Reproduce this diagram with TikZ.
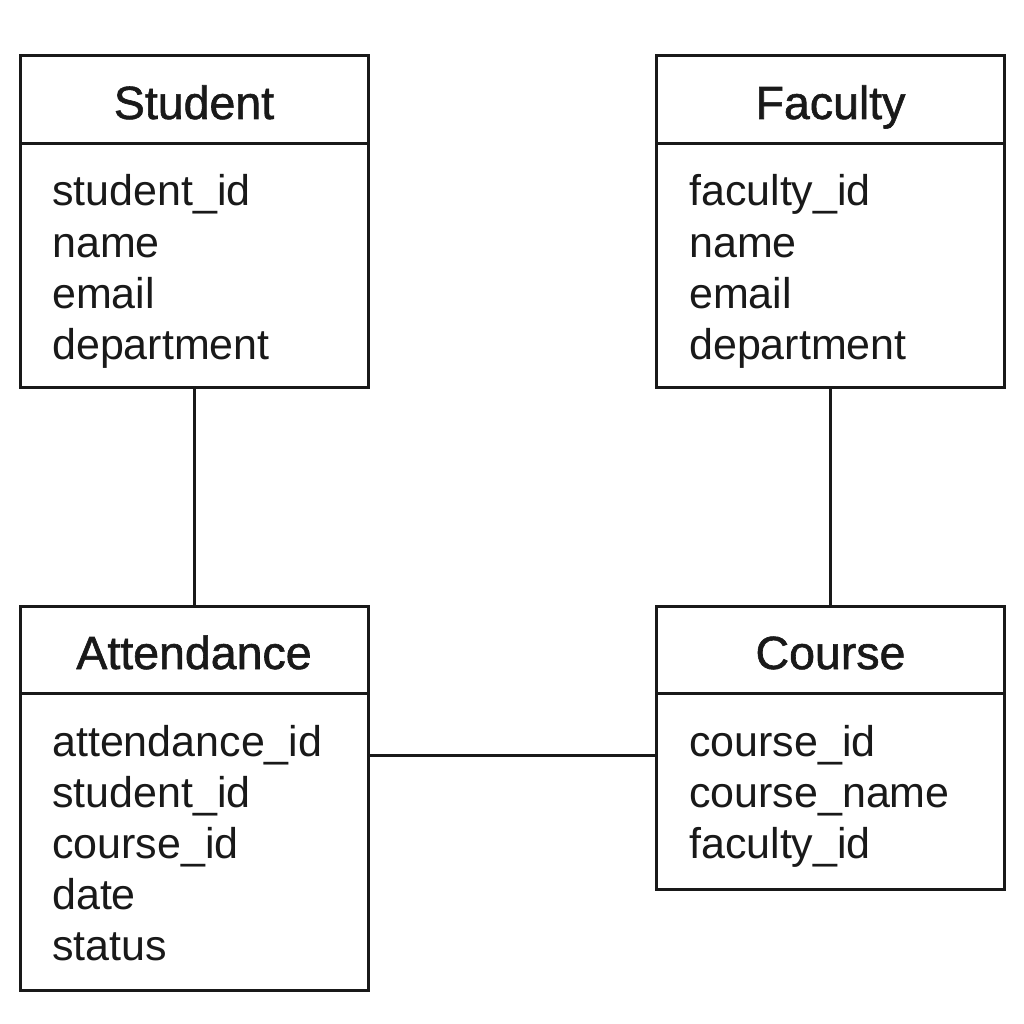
\documentclass[tikz,border=0pt]{standalone}
\usepackage{fontspec}
\setmainfont{Liberation Sans}
\newfontfamily\titlefont[FakeBold=1.3]{Liberation Sans}
\begin{document}
\begin{tikzpicture}[x=1pt,y=-1pt,
  box/.style={draw=black!90, line width=3pt, rectangle, outer sep=0pt, inner sep=0pt, minimum width=348pt},
  ttl/.style={anchor=base, inner sep=0pt, font=\titlefont\fontsize{46.5}{46.5}\selectfont, text=black!90},
  attr/.style={anchor=base west, inner sep=0pt, font=\fontsize{43}{43}\selectfont, text=black!90},
  link/.style={draw=black!90, line width=3pt}]
\useasboundingbox (0,0) rectangle (1024,1024);
% boxes
\node[box, minimum height=331pt] (student) at (194,221.5) {};
\node[box, minimum height=331pt] (faculty) at (830.5,221.5) {};
\node[box, minimum height=384pt] (attendance) at (194,798) {};
\node[box, minimum height=283pt] (course) at (830.5,747.5) {};
% dividers
\draw[link] (student.west |- 0,144) -- (student.east |- 0,144);
\draw[link] (faculty.west |- 0,144) -- (faculty.east |- 0,144);
\draw[link] (attendance.west |- 0,693) -- (attendance.east |- 0,693);
\draw[link] (course.west |- 0,693) -- (course.east |- 0,693);
% titles
\node[ttl] (tS) at (194,119) {Student};
\node[ttl] (tF) at (830.5,119) {Faculty};
\node[ttl] (tA) at (194,669) {Attendance};
\node[ttl] (tC) at (830.5,669) {Course};
% attributes
\node[attr] (s1) at (52,206) {student\_id};
\node[attr] (s2) at (52,257) {name};
\node[attr] (s3) at (52,308) {email};
\node[attr] (s4) at (52,359) {department};
\node[attr] (f1) at (689,206) {faculty\_id};
\node[attr] (f2) at (689,257) {name};
\node[attr] (f3) at (689,308) {email};
\node[attr] (f4) at (689,359) {department};
\node[attr] (a1) at (52,756) {attendance\_id};
\node[attr] (a2) at (52,807) {student\_id};
\node[attr] (a3) at (52,858) {course\_id};
\node[attr] (a4) at (52,909) {date};
\node[attr] (a5) at (52,960) {status};
\node[attr] (c1) at (689,756) {course\_id};
\node[attr] (c2) at (689,807) {course\_name};
\node[attr] (c3) at (689,858) {faculty\_id};
% connectors
\coordinate (ly) at (0,755);
\draw[link] (student.south) -- (attendance.north);
\draw[link] (faculty.south) -- (course.north);
\draw[link] (attendance.east |- ly) -- (course.west |- ly);
\end{tikzpicture}
\end{document}
